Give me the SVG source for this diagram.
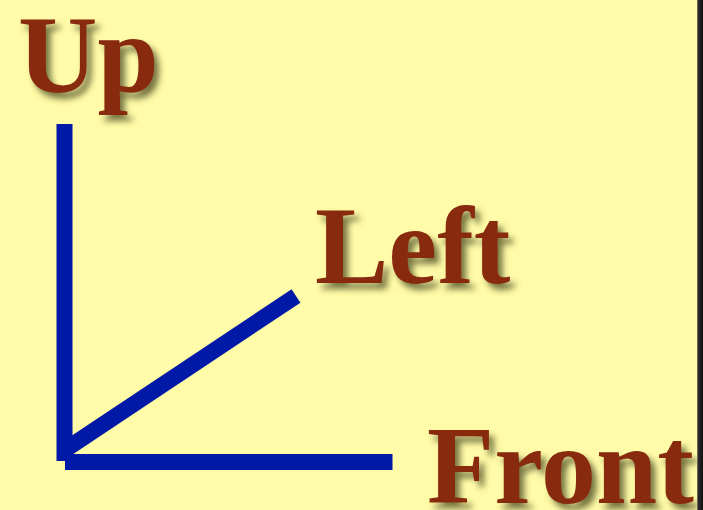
<svg xmlns="http://www.w3.org/2000/svg" width="703" height="510" viewBox="0 0 703 510">
  <defs>
    <filter id="shadow" x="-20%" y="-20%" width="150%" height="150%">
      <feGaussianBlur in="SourceAlpha" stdDeviation="3"/>
      <feOffset dx="5" dy="6" result="b"/>
      <feFlood flood-color="#4a4a20" flood-opacity="0.75"/>
      <feComposite in2="b" operator="in" result="s"/>
      <feMerge>
        <feMergeNode in="s"/>
        <feMergeNode in="SourceGraphic"/>
      </feMerge>
    </filter>
    <linearGradient id="edge" x1="0" y1="0" x2="1" y2="0">
      <stop offset="0" stop-color="#9a9a80"/>
      <stop offset="0.2" stop-color="#2a2a2a"/>
      <stop offset="1" stop-color="#111111"/>
    </linearGradient>
  </defs>
  <style>
    .lbl { font-family: "Liberation Serif", "Times New Roman", serif; font-weight: bold; font-size: 110px; fill: #882a0b; filter: url(#shadow); }
    .axis { stroke: #0019a6; stroke-width: 16; stroke-linecap: butt; fill: none; }
  </style>
  <rect x="0" y="0" width="703" height="510" fill="#fffba8"/>
  <g id="connectors">
    <line class="axis" x1="296" y1="296" x2="64" y2="450.5"/>
    <line class="axis" x1="64.5" y1="124" x2="64.5" y2="461"/>
    <line class="axis" x1="65" y1="462" x2="392.5" y2="462"/>
  </g>
  <g id="up">
    <text class="lbl" x="18" y="92" font-size="112">Up</text>
  </g>
  <g id="left">
    <text class="lbl" x="315" y="283">Left</text>
  </g>
  <g id="front">
    <text class="lbl" x="427" y="503">Front</text>
  </g>
  <rect x="697" y="0" width="6" height="510" fill="url(#edge)"/>
</svg>
